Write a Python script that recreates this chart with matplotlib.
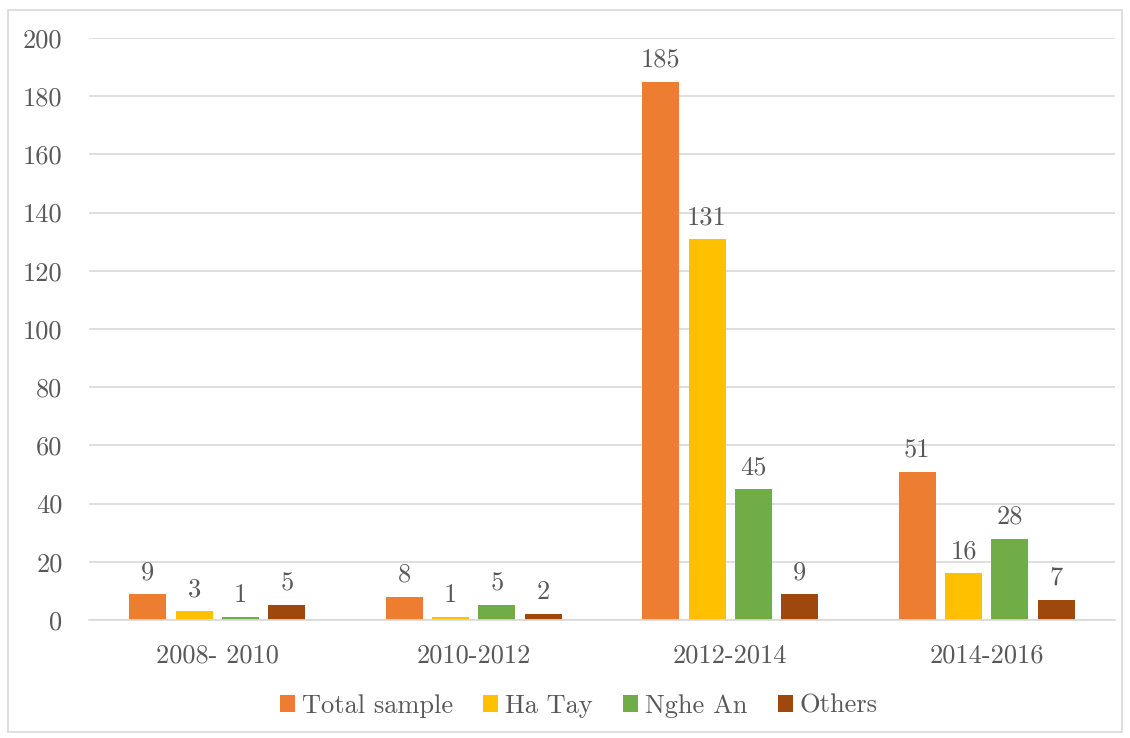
import numpy as np
import matplotlib
matplotlib.use("Agg")
import matplotlib.pyplot as plt
from matplotlib.patches import Rectangle

plt.rcParams['font.family'] = ['cmr10', 'DejaVu Serif']
plt.rcParams['axes.formatter.use_mathtext'] = True

# data
periods = ["2008- 2010", "2010-2012", "2012-2014", "2014-2016"]
total_sample = [9, 8, 185, 51]
ha_tay = [3, 1, 131, 16]
nghe_an = [1, 5, 45, 28]
others = [5, 2, 9, 7]

series_names = ["Total sample", "Ha Tay", "Nghe An", "Others"]
series_vals = [total_sample, ha_tay, nghe_an, others]
colors = ["#ED7D31", "#FFC000", "#70AD47", "#9E480E"]
yticks = [0, 20, 40, 60, 80, 100, 120, 140, 160, 180, 200]

txt = "#595959"
grid = "#D9D9D9"
fs = 19

fig = plt.figure(figsize=(11.3, 7.38), dpi=100)
# chart border
fig.patches.append(Rectangle((8 / 1130, 6 / 738), 1114 / 1130, 722 / 738,
                             transform=fig.transFigure, fill=False,
                             edgecolor=grid, lw=1.2))

ax = fig.add_axes([89 / 1130, 1 - 620 / 738, 1026 / 1130, 582 / 738])

x = np.arange(len(periods))
width = 0.144
pitch = 0.181
for i, (name, vals, c) in enumerate(zip(series_names, series_vals, colors)):
    pos = x + (i - 1.5) * pitch
    bars = ax.bar(pos, vals, width, color=c, label=name, zorder=3)
    for b, v in zip(bars, vals):
        ax.annotate(str(v), (b.get_x() + b.get_width() / 2, v),
                    xytext=(0, 7), textcoords="offset points",
                    ha="center", va="bottom", fontsize=fs, color=txt)

ax.set_xlim(-0.5, len(periods) - 0.5)
ax.set_ylim(0, 200)
ax.set_yticks(yticks)
ax.set_yticklabels([str(t) for t in yticks])
ax.set_xticks(x)
ax.set_xticklabels(periods)
ax.tick_params(axis="y", length=0, pad=19, labelsize=fs, labelcolor=txt)
ax.tick_params(axis="x", length=0, pad=17, labelsize=fs, labelcolor=txt)
ax.grid(axis="y", color=grid, lw=1.2, zorder=0)
for s in ["top", "right", "left"]:
    ax.spines[s].set_visible(False)
ax.spines["bottom"].set_color(grid)
ax.spines["bottom"].set_linewidth(1.2)
ax.spines["bottom"].set_zorder(4)

leg = fig.legend(loc="center", bbox_to_anchor=(0.512, 1 - 706 / 738), ncol=4,
                 frameon=False, fontsize=fs, handlelength=0.58, handleheight=0.58,
                 handletextpad=0.25, columnspacing=1.15)
for t in leg.get_texts():
    t.set_color(txt)

fig.savefig("out.png", dpi=100)
